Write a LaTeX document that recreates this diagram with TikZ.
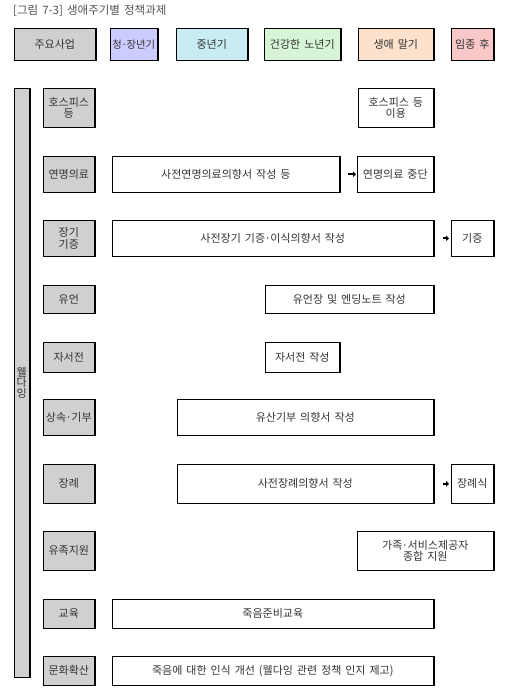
\documentclass[tikz,border=0pt]{standalone}
\usepackage{fontspec}
\setmainfont[WordSpace=1.6]{Noto Sans CJK KR}
\usetikzlibrary{arrows.meta,calc}
\definecolor{txt}{HTML}{333333}
\definecolor{grayf}{HTML}{D0D0D0}
\definecolor{youth}{HTML}{CCCCFF}
\definecolor{mid}{HTML}{C8ECF2}
\definecolor{old}{HTML}{D6F5D6}
\definecolor{late}{HTML}{FCE2CC}
\definecolor{after}{HTML}{F8C8C8}
\newcommand{\md}{\kern-0.5pt·\kern-0.5pt}
\tikzset{
  bx/.style={draw=black, line width=0.6pt, inner sep=0pt, anchor=north west, align=center,
    text=txt, font=\fontsize{11}{13.5}\selectfont},
  cat/.style={bx, fill=grayf},
  arr/.style={line width=2pt, -{Triangle[length=3pt,width=5.5pt]}},
}
\newcommand{\mybox}[7]{% style, name, x1, y1, x2, y2, text
  \node[#1, minimum width={(#5-#3)*1pt}, minimum height={(#6-#4)*1pt}] (#2) at (#3,#4) {#7};
  \draw[line width=1.3pt] ($(#2.north east)+(0.3,0)$) -- ($(#2.south east)+(0.3,-0.3)$) -- ($(#2.south west)+(0,-0.3)$);
}
\begin{document}
\begin{tikzpicture}[x=1pt, y=-1pt]
\useasboundingbox (0,0) rectangle (512,700);
\node[anchor=west, text=txt!85, font=\fontsize{11.5}{13}\selectfont, inner sep=0pt] (title) at (13,11) {[그림 7-3] 생애주기별 정책과제};
% header
\mybox{cat}{h0}{14}{28}{95}{60}{주요사업}
\mybox{bx,fill=youth,font=\fontsize{10.3}{12}\selectfont}{h1}{110}{28}{157}{60}{청\md 장년기}
\mybox{bx,fill=mid}{h2}{176}{28}{247}{60}{중년기}
\mybox{bx,fill=old}{h3}{264}{28}{340}{60}{건강한 노년기}
\mybox{bx,fill=late}{h4}{358}{28}{433}{60}{생애 말기}
\mybox{bx,fill=after}{h5}{451}{28}{493}{60}{임종 후}
% left bar
\mybox{cat}{bar}{14}{88}{29}{677}{웰\\[-3pt]다\\[-3pt]잉}
% categories
\mybox{cat}{c1}{43}{88}{94}{127}{호스피스\\[-2pt]등}
\mybox{cat}{c2}{43}{156}{94}{192}{연명의료}
\mybox{cat}{c3}{43}{220}{94}{256}{장기\\[-2pt]기증}
\mybox{cat}{c4}{43}{285}{94}{313}{유언}
\mybox{cat}{c5}{43}{342}{94}{372}{자서전}
\mybox{cat}{c6}{43}{399}{94}{435}{상속\md 기부}
\mybox{cat}{c7}{43}{464}{94}{503}{장례}
\mybox{cat}{c8}{43}{531}{94}{570}{유족지원}
\mybox{cat}{c9}{43}{599}{94}{628}{교육}
\mybox{cat}{c10}{43}{656}{94}{685}{문화확산}
% contents
\mybox{bx}{r1}{358}{88}{433}{127}{호스피스 등\\[-2pt]이용}
\mybox{bx}{r2a}{112}{156}{339}{192}{사전연명의료의향서 작성 등}
\mybox{bx}{r2b}{357}{156}{433}{192}{연명의료 중단}
\mybox{bx}{r3a}{112}{220}{433}{256}{사전장기 기증\md 이식의향서 작성}
\mybox{bx}{r3b}{451}{220}{493}{256}{기증}
\mybox{bx}{r4}{265}{285}{433}{313}{유언장 및 엔딩노트 작성}
\mybox{bx}{r5}{265}{342}{339}{372}{자서전 작성}
\mybox{bx}{r6}{177}{399}{433}{435}{유산기부 의향서 작성}
\mybox{bx}{r7a}{177}{464}{433}{503}{사전장례의향서 작성}
\mybox{bx}{r7b}{451}{464}{493}{503}{장례식}
\mybox{bx}{r8}{357}{531}{493}{570}{가족\md 서비스제공자\\[-2pt]종합 지원}
\mybox{bx}{r9}{112}{599}{433}{628}{죽음준비교육}
\mybox{bx}{r10}{112}{656}{433}{685}{죽음에 대한 인식 개선 (웰다잉 관련 정책 인지 제고)}
% arrows
\draw[arr, shorten <=8pt, shorten >=1pt] (r2a.east) -- (r2b.west);
\draw[arr, shorten <=9pt, shorten >=2pt] (r3a.east) -- (r3b.west);
\draw[arr, shorten <=9pt, shorten >=2pt] (r7a.east) -- (r7b.west);
\end{tikzpicture}
\end{document}
